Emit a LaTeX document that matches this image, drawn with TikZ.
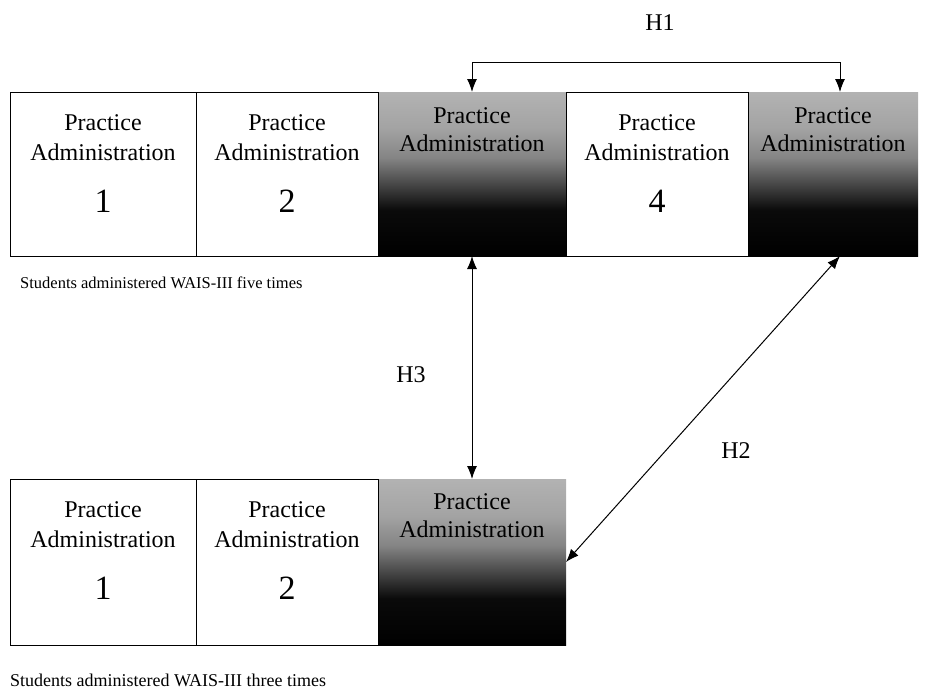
\documentclass[tikz,border=0pt]{standalone}
\usepackage{fontspec}
\setmainfont{Liberation Serif}
\usetikzlibrary{arrows.meta}
\pgfdeclareverticalshading{admshade}{100bp}{color(0bp)=(black); color(25bp)=(black); color(39bp)=(black!96); color(47bp)=(black!72); color(55bp)=(black!48); color(64bp)=(black!36); color(75bp)=(black!30); color(100bp)=(black!30)}
\begin{document}
\begin{tikzpicture}[x=1pt,y=-1pt,
  boxbase/.style={rectangle, inner sep=0pt, outer sep=0pt},
  wbox/.style={boxbase, draw=black, line width=0.9pt, fill=white},
  sbox/.style={boxbase, shading=admshade},
  lbl/.style={anchor=base, inner sep=0pt, font=\fontsize{24}{28}\selectfont},
  numlbl/.style={anchor=base, inner sep=0pt, font=\fontsize{34}{38}\selectfont},
  caplbl/.style={anchor=base west, inner sep=0pt},
  hyp/.style={{Latex[length=13pt,width=10pt]}-{Latex[length=13pt,width=10pt]}, line width=1pt}
]
\useasboundingbox (0,0) rectangle (925,693);

% top row (y 92 -- 256)
\node[sbox, minimum width=188pt, minimum height=164pt] (t3) at (472,174) {};
\node[sbox, minimum width=170pt, minimum height=164pt] (t5) at (833,174) {};
\node[wbox, minimum width=186pt, minimum height=164pt] (t1) at (103,174) {};
\node[wbox, minimum width=182pt, minimum height=164pt] (t2) at (287,174) {};
\node[wbox, minimum width=182pt, minimum height=164pt] (t4) at (657,174) {};

% bottom row (y 479 -- 645)
\node[sbox, minimum width=188pt, minimum height=166pt] (b3) at (472,562) {};
\node[wbox, minimum width=186pt, minimum height=166pt] (b1) at (103,562) {};
\node[wbox, minimum width=182pt, minimum height=166pt] (b2) at (287,562) {};

% texts top row
\node[lbl] (t1p) at (103,130) {Practice};
\node[lbl] (t1a) at (103,160) {Administration};
\node[numlbl] (t1n) at (103,212) {1};
\node[lbl] (t2p) at (287,130) {Practice};
\node[lbl] (t2a) at (287,160) {Administration};
\node[numlbl] (t2n) at (287,212) {2};
\node[lbl] (t3p) at (472,123) {Practice};
\node[lbl] (t3a) at (472,151) {Administration};
\node[lbl] (t4p) at (657,130) {Practice};
\node[lbl] (t4a) at (657,160) {Administration};
\node[numlbl] (t4n) at (657,212) {4};
\node[lbl] (t5p) at (833,123) {Practice};
\node[lbl] (t5a) at (833,151) {Administration};

% texts bottom row
\node[lbl] (b1p) at (103,517) {Practice};
\node[lbl] (b1a) at (103,547) {Administration};
\node[numlbl] (b1n) at (103,599) {1};
\node[lbl] (b2p) at (287,517) {Practice};
\node[lbl] (b2a) at (287,547) {Administration};
\node[numlbl] (b2n) at (287,599) {2};
\node[lbl] (b3p) at (472,509) {Practice};
\node[lbl] (b3a) at (472,537) {Administration};

% captions
\node[caplbl, font=\fontsize{16.5}{20}\selectfont] (cap1) at (20,288) {Students administered WAIS-III five times};
\node[caplbl, font=\fontsize{18}{22}\selectfont] (cap2) at (10,686) {Students administered WAIS-III three times};

% hypotheses connectors
\coordinate (h1a) at (472,62);
\coordinate (h1b) at (840,62);
\draw[hyp] (t3.north) -- (h1a) -- (h1b) -- (t5.north -| h1b);
\draw[hyp] (t3.south) -- (b3.north);
\draw[hyp] (t5.south -| h1b) -- (b3.east);

\node[lbl] (H1) at (660,31) {H1};
\node[lbl] (H3) at (411,382) {H3};
\node[lbl] (H2) at (736,458) {H2};
\end{tikzpicture}
\end{document}
